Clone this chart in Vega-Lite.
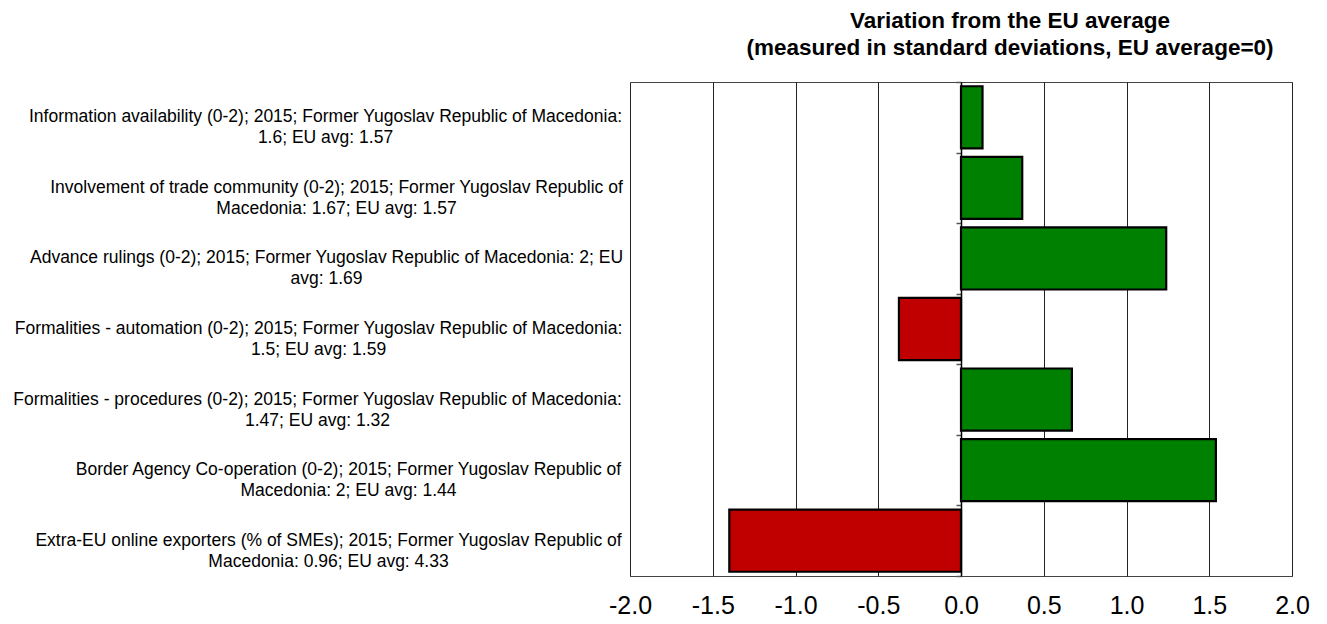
{
  "$schema": "https://vega.github.io/schema/vega-lite/v6.json",
  "width": 662,
  "height": 494,
  "autosize": {"type": "none"},
  "padding": {"left": 630, "top": 82, "right": 35, "bottom": 48},
  "background": "white",
  "title": {
    "text": ["Variation from the EU average", "(measured in standard deviations, EU average=0)"],
    "font": "Liberation Sans",
    "fontWeight": "bold",
    "fontSize": 22.5,
    "lineHeight": 27,
    "color": "black",
    "anchor": "middle",
    "dx": 49,
    "offset": 22
  },
  "config": {"view": {"stroke": "#444444", "strokeWidth": 1}},
  "data": {
    "values": [
      {"indicator": "Information availability (0-2); 2015; Former Yugoslav Republic of Macedonia:\n1.6; EU avg: 1.57", "deviation": 0.13},
      {"indicator": "Involvement of trade community (0-2); 2015; Former Yugoslav Republic of\nMacedonia: 1.67; EU avg: 1.57", "deviation": 0.37},
      {"indicator": "Advance rulings (0-2); 2015; Former Yugoslav Republic of Macedonia: 2; EU\navg: 1.69", "deviation": 1.24},
      {"indicator": "Formalities - automation (0-2); 2015; Former Yugoslav Republic of Macedonia:\n1.5; EU avg: 1.59", "deviation": -0.375},
      {"indicator": "Formalities - procedures (0-2); 2015; Former Yugoslav Republic of Macedonia:\n1.47; EU avg: 1.32", "deviation": 0.67},
      {"indicator": "Border Agency Co-operation (0-2); 2015; Former Yugoslav Republic of\nMacedonia: 2; EU avg: 1.44", "deviation": 1.54},
      {"indicator": "Extra-EU online exporters (% of SMEs); 2015; Former Yugoslav Republic of\nMacedonia: 0.96; EU avg: 4.33", "deviation": -1.40}
    ]
  },
  "layer": [
    {
      "mark": {"type": "bar", "height": {"band": 0.88}, "stroke": "black", "strokeWidth": 2.2},
      "encoding": {
        "x": {
          "field": "deviation",
          "type": "quantitative",
          "scale": {"domain": [-2, 2], "nice": false},
          "axis": {
            "orient": "bottom",
            "values": [-2, -1.5, -1, -0.5, 0, 0.5, 1, 1.5, 2],
            "labelExpr": "(datum.value < 0 ? '-' : '') + format(abs(datum.value), '.1f')",
            "domain": false,
            "ticks": false,
            "tickSize": 0,
            "grid": true,
            "gridColor": "#222222",
            "gridWidth": 1,
            "gridOpacity": 1,
            "labelFont": "Liberation Sans",
            "labelFontSize": 25,
            "labelColor": "black",
            "labelPadding": 17,
            "labelFlush": false,
            "title": null
          }
        },
        "y": {
          "field": "indicator",
          "type": "nominal",
          "sort": null,
          "scale": {"paddingInner": 0, "paddingOuter": 0},
          "axis": {
            "orient": "left",
            "domain": false,
            "ticks": false,
            "tickSize": 0,
            "grid": false,
            "title": null,
            "labelExpr": "split(datum.value, '\\n')",
            "labelAlign": "center",
            "labelBaseline": "middle",
            "labelFont": "Liberation Sans",
            "labelFontSize": 17.5,
            "labelLineHeight": 21,
            "labelColor": "black",
            "labelLimit": 0,
            "labelPadding": {
              "condition": [
                {"test": "indexof(datum.value, 'Information') === 0", "value": 305},
                {"test": "indexof(datum.value, 'Involvement') === 0", "value": 294},
                {"test": "indexof(datum.value, 'Advance') === 0", "value": 304},
                {"test": "indexof(datum.value, 'Formalities - a') === 0", "value": 312},
                {"test": "indexof(datum.value, 'Formalities - p') === 0", "value": 313},
                {"test": "indexof(datum.value, 'Border') === 0", "value": 282}
              ],
              "value": 302
            }
          }
        },
        "fill": {
          "condition": {"test": "datum.deviation < 0", "value": "#C00000"},
          "value": "#008000"
        }
      }
    },
    {
      "mark": {"type": "bar", "opacity": 0},
      "encoding": {
        "x": {"field": "deviation", "type": "quantitative"},
        "y": {
          "field": "indicator",
          "type": "nominal",
          "sort": null,
          "axis": {
            "orient": "left",
            "offset": -331,
            "domain": true,
            "domainColor": "black",
            "domainWidth": 1.5,
            "ticks": true,
            "tickBand": "extent",
            "tickSize": 5,
            "tickColor": "#555555",
            "tickWidth": 1.5,
            "labels": false,
            "grid": false,
            "title": null
          }
        }
      }
    }
  ],
  "resolve": {"axis": {"y": "independent"}}
}
